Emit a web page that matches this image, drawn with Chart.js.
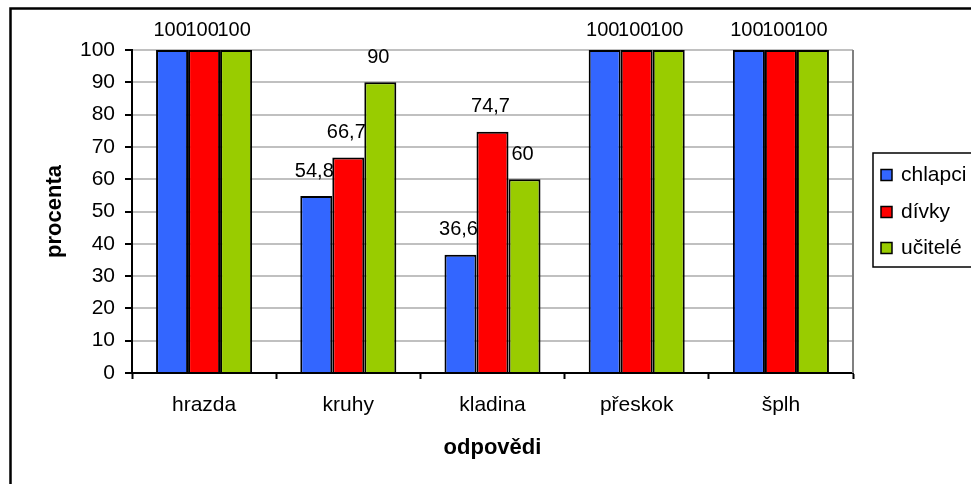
<!DOCTYPE html>
<html lang="cs">
<head>
<meta charset="UTF-8">
<title>odpovědi</title>
<script src="https://cdn.jsdelivr.net/npm/chart.js"></script>
<style>
  html, body { margin: 0; padding: 0; background: #fff; }
  #wrap { width: 971px; height: 484px; }
</style>
</head>
<body>
<div id="wrap"><canvas id="chart" width="971" height="484"></canvas></div>
<script>
// data
const categories = ['hrazda', 'kruhy', 'kladina', 'přeskok', 'šplh'];
const chlapci = [100, 54.8, 36.6, 100, 100];
const divky = [100, 66.7, 74.7, 100, 100];
const ucitele = [100, 90, 60, 100, 100];
const seriesNames = ['chlapci', 'dívky', 'učitelé'];
const seriesColors = ['#3366FF', '#FF0000', '#99CC00'];

const FONT = 'Arial, "Liberation Sans", sans-serif';
const FS = 21;
const FS_LABEL = 20;
const FS_TITLE = 22;

// labels above bars, legend box, frame lines
const extras = {
    id: 'extras',
    afterDatasetsDraw(chart) {
        const ctx = chart.ctx;
        const area = chart.chartArea;
        ctx.save();
        // plot area right border
        ctx.strokeStyle = '#808080';
        ctx.lineWidth = 2;
        ctx.beginPath();
        ctx.moveTo(area.right, area.top);
        ctx.lineTo(area.right, area.bottom);
        ctx.stroke();

        // value labels
        ctx.fillStyle = '#000';
        ctx.font = FS_LABEL + 'px ' + FONT;
        ctx.textAlign = 'center';
        ctx.textBaseline = 'middle';
        chart.data.datasets.forEach((ds, i) => {
            chart.getDatasetMeta(i).data.forEach((bar, j) => {
                const txt = String(ds.data[j]).replace('.', ',');
                const y = Math.max(bar.y - 25, 30);
                ctx.fillText(txt, bar.x - 2, y);
            });
        });
        ctx.restore();
    },
    afterDraw(chart) {
        const ctx = chart.ctx;
        ctx.save();
        // outer frame (left and top visible)
        ctx.strokeStyle = '#000';
        ctx.lineWidth = 2.5;
        ctx.beginPath();
        ctx.moveTo(10.5, 490);
        ctx.lineTo(10.5, 8.5);
        ctx.lineTo(980, 8.5);
        ctx.stroke();

        // legend
        ctx.lineWidth = 1.5;
        ctx.strokeRect(873, 153, 110, 114);
        ctx.font = FS + 'px ' + FONT;
        ctx.textAlign = 'left';
        ctx.textBaseline = 'middle';
        const ys = [175, 212, 248];
        chart.data.datasets.forEach((ds, i) => {
            ctx.fillStyle = ds.backgroundColor;
            ctx.fillRect(881, ys[i] - 5.5, 11, 11);
            ctx.lineWidth = 1.5;
            ctx.strokeStyle = '#000';
            ctx.strokeRect(881, ys[i] - 5.5, 11, 11);
            ctx.fillStyle = '#000';
            ctx.fillText(ds.label, 901, ys[i]);
        });
        ctx.restore();
    }
};

new Chart(document.getElementById('chart'), {
    type: 'bar',
    data: {
        labels: categories,
        datasets: [chlapci, divky, ucitele].map((vals, i) => ({
            label: seriesNames[i],
            data: vals,
            backgroundColor: seriesColors[i],
            borderColor: '#000',
            borderWidth: 2,
            categoryPercentage: 0.666,
            barPercentage: 1.0
        }))
    },
    options: {
        responsive: false,
        animation: false,
        devicePixelRatio: 1,
        layout: { padding: { top: 50, right: 118, left: 0, bottom: 0 } },
        plugins: {
            legend: { display: false },
            tooltip: { enabled: false }
        },
        scales: {
            x: {
                afterFit(scale) { scale.height = 111; },
                grid: {
                    display: true,
                    drawOnChartArea: false,
                    offset: true,
                    tickLength: 6,
                    tickColor: '#000',
                    tickWidth: 2
                },
                border: { color: '#000', width: 2 },
                ticks: {
                    color: '#000',
                    padding: 14,
                    font: { family: FONT, size: FS }
                },
                title: {
                    display: true,
                    text: 'odpovědi',
                    color: '#000',
                    padding: { top: 0, bottom: 23 },
                    font: { family: FONT, size: FS_TITLE, weight: 'bold' }
                }
            },
            y: {
                min: 0,
                max: 100,
                afterFit(scale) { scale.width = 132; },
                grid: {
                    color: '#C0C0C0',
                    lineWidth: 2,
                    tickLength: 7,
                    tickColor: '#000',
                    tickWidth: 2
                },
                border: { color: '#000', width: 2 },
                ticks: {
                    stepSize: 10,
                    color: '#000',
                    padding: 10,
                    font: { family: FONT, size: FS }
                },
                title: {
                    display: true,
                    text: 'procenta',
                    color: '#000',
                    padding: { top: 42, bottom: 0 },
                    font: { family: FONT, size: FS_TITLE, weight: 'bold' }
                }
            }
        }
    },
    plugins: [extras]
});
</script>
</body>
</html>
